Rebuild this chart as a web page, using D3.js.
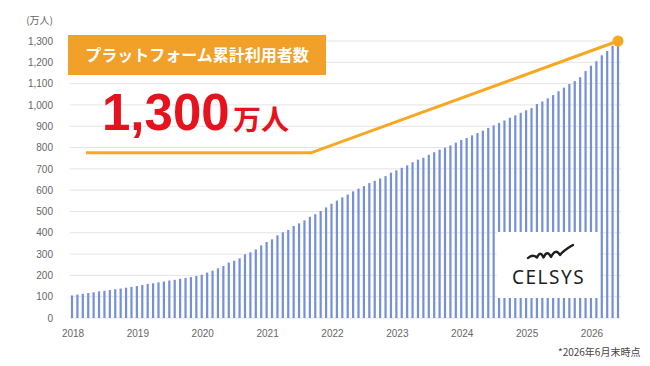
<!DOCTYPE html>
<html>
<head>
<meta charset="utf-8">
<script src="https://cdn.jsdelivr.net/npm/d3@7"></script>
<style>
  body { margin: 0; background: #fff; }
  svg { display: block; }
</style>
</head>
<body>
<div id="chart"></div>
<script>
// monthly cumulative users (万人), Jan 2018 .. Jun 2026
let users = [
    106, 110, 113, 117, 121, 125, 128, 131, 135, 138, 142, 146,
    150, 155, 160, 163, 167, 171, 176, 179, 184, 188, 192, 197,
    203, 213, 222, 233, 244, 260, 269, 280, 299, 308, 322, 341,
    357, 369, 388, 402, 413, 432, 444, 458, 475, 487, 502, 519,
    536, 551, 566, 579, 594, 607, 619, 633, 644, 655, 666, 682,
    693, 705, 716, 731, 743, 752, 766, 778, 790, 799, 810, 823,
    835, 845, 857, 868, 879, 892, 904, 915, 927, 940, 951, 963,
    975, 985, 1004, 1016, 1031, 1046, 1064, 1081, 1098, 1112, 1130, 1159,
    1184, 1205, 1233, 1253, 1278, 1295
];
let years = ['2018', '2019', '2020', '2021', '2022', '2023', '2024', '2025', '2026'];
let yTicks = [0, 100, 200, 300, 400, 500, 600, 700, 800, 900, 1000, 1100, 1200, 1300];

// orange highlight line (month index, value)
let trendIdx = [2.6, 44.2, 101];
let trendVal = [775, 775, 1300];

let width = 650, height = 366;
let margin = { "top": 41, "bottom": 48, "left": 72, "right": 32 };

let svg = d3.select('#chart').append('svg').attr('width', width).attr('height', height);

let xScale = d3.scaleLinear()
    .domain([0, users.length - 1])
    .range([margin.left, width - margin.right]);
let yScale = d3.scaleLinear()
    .domain([0, 1300])
    .range([height - margin.bottom, margin.top]);

// grid
svg.append('g')
    .selectAll('line')
    .data(yTicks)
    .enter()
    .append('line')
    .attr('x1', 70)
    .attr('x2', 621)
    .attr('y1', d => yScale(d))
    .attr('y2', d => yScale(d))
    .attr('stroke', '#e4e4e4')
    .attr('stroke-width', 1);

// y labels
let yLabel = d3.axisLeft(yScale)
    .tickValues(yTicks)
    .tickSize(0)
    .tickPadding(0)
    .tickFormat(d3.format(','));
svg.append('g')
    .attr('class', 'y_axis')
    .attr('transform', 'translate(' + [53, 0].join(',') + ')')
    .call(yLabel)
    .call(g => g.select('.domain').remove())
    .selectAll('text')
    .attr('fill', '#666')
    .style('font-family', 'Liberation Sans, Arial, sans-serif')
    .style('font-size', '10px');

svg.append('text')
    .attr('x', 53)
    .attr('y', 24)
    .attr('text-anchor', 'end')
    .attr('fill', '#666')
    .style('font-family', 'Noto Sans CJK JP, sans-serif')
    .style('font-size', '10px')
    .text('(万人)');

// x labels at each January
svg.append('g')
    .selectAll('text')
    .data(years)
    .enter()
    .append('text')
    .attr('x', (d, i) => xScale(i * 12) + 1)
    .attr('y', 337)
    .attr('text-anchor', 'middle')
    .attr('fill', '#666')
    .style('font-family', 'Liberation Sans, Arial, sans-serif')
    .style('font-size', '10px')
    .text(d => d);

// bars
svg.append('g')
    .selectAll('rect')
    .data(users)
    .enter()
    .append('rect')
    .attr('x', (d, i) => xScale(i) - 1.1)
    .attr('width', 2.2)
    .attr('y', d => yScale(d))
    .attr('height', d => yScale(0) - yScale(d))
    .attr('fill', '#7690d8');

// logo panel
svg.append('rect')
    .attr('x', 497)
    .attr('y', 232)
    .attr('width', 103)
    .attr('height', 66)
    .attr('fill', '#fff');
svg.append('path')
    .attr('d', 'M528,258 C531,255 534,255 537,257.5 C539,253 541,252 543.5,257.5 C546,252 548.5,252 551,257 C554,251 557,250 560,255 C564,250 568,248 573,245')
    .attr('fill', 'none')
    .attr('stroke', '#1e1e1e')
    .attr('stroke-width', 2.4)
    .attr('stroke-linecap', 'round')
    .attr('stroke-linejoin', 'round');
svg.append('text')
    .attr('x', 548.5)
    .attr('y', 284)
    .attr('text-anchor', 'middle')
    .attr('fill', '#1e1e1e')
    .style('font-family', 'Noto Sans, sans-serif')
    .style('font-size', '19px')
    .style('letter-spacing', '1.5px')
    .text('CELSYS');

// orange trend line
let line = d3.line()
    .x(function(d){ return xScale(d[0]); })
    .y(function(d){ return yScale(d[1]); });
let trend = d3.zip(trendIdx, trendVal);
svg.append('path')
    .attr('d', line(trend))
    .attr('fill', 'none')
    .attr('stroke', '#f7a823')
    .attr('stroke-width', 3);
svg.append('circle')
    .attr('cx', xScale(trendIdx[2]))
    .attr('cy', yScale(trendVal[2]))
    .attr('r', 5.5)
    .attr('fill', '#f7a823');

// title box
svg.append('rect')
    .attr('x', 68)
    .attr('y', 35)
    .attr('width', 258)
    .attr('height', 40)
    .attr('fill', '#f1a02a');
svg.append('text')
    .attr('x', 197)
    .attr('y', 61)
    .attr('text-anchor', 'middle')
    .attr('fill', '#fff')
    .style('font-family', 'Noto Sans CJK JP, sans-serif')
    .style('font-weight', 'bold')
    .style('font-size', '16px')
    .text('プラットフォーム累計利用者数');

// big number
svg.append('text')
    .attr('x', 102)
    .attr('y', 130)
    .attr('fill', '#e5131d')
    .style('font-family', 'Liberation Sans, Arial, sans-serif')
    .style('font-weight', 'bold')
    .style('font-size', '51px')
    .text('1,300');
svg.append('text')
    .attr('x', 233)
    .attr('y', 130)
    .attr('fill', '#e5131d')
    .style('font-family', 'Noto Sans CJK JP, sans-serif')
    .style('font-weight', 'bold')
    .style('font-size', '28px')
    .text('万人');

// footnote
svg.append('text')
    .attr('x', 558)
    .attr('y', 356)
    .attr('fill', '#444')
    .style('font-family', 'Noto Sans CJK JP, sans-serif')
    .style('font-size', '10px')
    .text('*2026年6月末時点');
</script>
</body>
</html>
